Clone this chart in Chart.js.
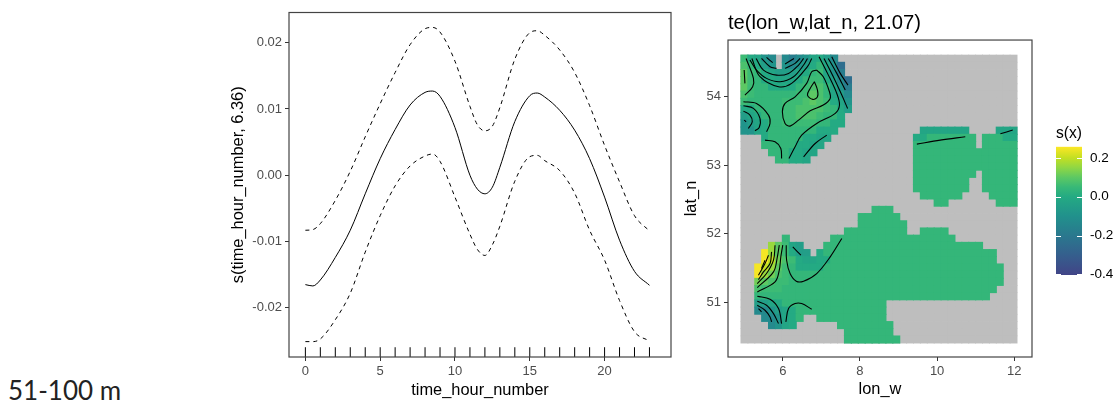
<!DOCTYPE html>
<html>
<head>
<meta charset="utf-8">
<title>gam smooths</title>
<script src="https://cdn.jsdelivr.net/npm/chart.js@4"></script>
<style>
  html, body { margin: 0; padding: 0; background: #fff; overflow: hidden; }
  canvas { position: absolute; }
  #depthLabel { position: absolute; left: 8px; top: 374px; font: 26px Lato, sans-serif; color: #222; }
</style>
</head>
<body>
<canvas id="hourChart" style="left:220px;top:0"></canvas>
<canvas id="mapChart" style="left:680px;top:0"></canvas>
<canvas id="barChart" style="left:1040px;top:120px"></canvas>
<div id="depthLabel">51-100 m</div>
<script>
// left panel: s(time_hour_number)
const hours = [0, 0.5, 1, 2, 3, 4, 5, 6, 7, 8, 8.5, 9, 10, 11, 11.5, 12, 12.5, 13, 14, 15, 15.5, 16, 17, 18, 19, 20, 21, 22, 23];
const sFit = [-0.0165, -0.0167, -0.0158, -0.0124, -0.0083, -0.0028, 0.0025, 0.0069, 0.0106, 0.0125, 0.0127, 0.0119, 0.0072, 0, -0.0021, -0.0028, -0.0018, 0.0012, 0.0081, 0.012, 0.0124, 0.0118, 0.0098, 0.0068, 0.0025, -0.0033, -0.0098, -0.0145, -0.0166];
const sUpper = [-0.0083, -0.0082, -0.0073, -0.0038, 0.0006, 0.0058, 0.0108, 0.0155, 0.0197, 0.0221, 0.0223, 0.0216, 0.0172, 0.0104, 0.0076, 0.0067, 0.0074, 0.0102, 0.0175, 0.0215, 0.0218, 0.0211, 0.0189, 0.0155, 0.0105, 0.0045, -0.001, -0.0061, -0.0084];
const sLower = [-0.0251, -0.0251, -0.0247, -0.0218, -0.0178, -0.0116, -0.0061, -0.0016, 0.0014, 0.0029, 0.0032, 0.0021, -0.0033, -0.0089, -0.0112, -0.0121, -0.0105, -0.0077, -0.0009, 0.0028, 0.003, 0.0022, 0.0007, -0.0027, -0.0083, -0.0128, -0.0189, -0.0236, -0.025];
const rugHours = [0, 1, 2, 3, 4, 5, 6, 7, 8, 9, 10, 11, 12, 13, 14, 15, 16, 17, 18, 19, 20, 21, 22, 23];
const hourTicks = [0, 5, 10, 15, 20];
const sTicks = [-0.02, -0.01, 0, 0.01, 0.02];

// right panel: 40x40 grid, run-length coded rows, top row first. "." is outside too.far
const levelCodes = 'abcdefghijklmnop';
const levelValues = [-0.3, -0.24, -0.18, -0.13, -0.09, -0.05, -0.02, 0, 0.04, 0.055, 0.075, 0.1, 0.12, 0.16, 0.2, 0.25];
const gridRows = [
  'jhged.dcdeghfd26.',
  'kihfe.edefhigeb25.',
  'ljihgfffghijgec25.',
  'ljihhggghijjhfdb24.',
  'ljiihhhhijkkigec24.',
  'kjiiiiiijjlkigfd24.',
  'jiiiiijjjklkjhge24.',
  'hhiiiijjkkkkjihf24.',
  'fghiiijjkkkjiih25.',
  'efghiijjjjjiihh25.',
  'eeghiiiiiiihhh12.7g4.3g',
  '3.hiiiiihhgg12.hh7i.iiihh',
  '3.iiiiihhgg13.9i.5i',
  '4.iiihhgg14.15i',
  '5.iihhg15.15i',
  '25.15i',
  '25.9i.5i',
  '25.8i2.5i',
  '25.8i2.5i',
  '26.6i4.4i',
  '28.2i7.3i',
  '19.3i18.',
  '17.6i17.',
  '17.7i16.',
  '15.9i2.4i10.',
  '6.i6.18i9.',
  '4.nljgf3.23i5.',
  '3.pnljhff.h25i3.',
  '3.pomkjhgghh24i3.',
  '2.ponljihhhh26i2.',
  '2.pnmkj31i2.',
  '2.mlkjj31i2.',
  '2.kjjj31i3.',
  '2.34i4.',
  '2.ffgh15i19.',
  '2.ddefgh13i19.',
  '3.ddeghi2.10i19.',
  '4.degh6.8i18.',
  '15.7i18.',
  '15.8i17.'
];
const lonStart = 4.918, lonStep = 0.1788;
const latStart = 54.61, latStep = 0.1052;
const lonTicks = [6, 8, 10, 12];
const latTicks = [51, 52, 53, 54];

// contours, [lon, lat]
const contoursNorth = [
  [[6.82, 54.22], [6.90, 54.098], [6.90, 54.0], [6.78, 53.962], [6.64, 54.025], [6.71, 54.122], [6.82, 54.22]],
  [[6.88, 54.39], [7.05, 54.293], [7.21, 54.074], [7.23, 53.976], [7.05, 53.879], [6.71, 53.796], [6.41, 53.66], [6.19, 53.572], [6.06, 53.611], [5.99, 53.781], [6.06, 53.903], [6.32, 54.0], [6.62, 54.196], [6.75, 54.366], [6.88, 54.39]],
  [[6.94, 54.585], [7.16, 54.342], [7.40, 54.049], [7.47, 53.879], [7.36, 53.757], [6.88, 53.611], [6.49, 53.44], [6.32, 53.27], [6.16, 53.099]],
  [[7.07, 54.56], [7.31, 54.293], [7.53, 54.025], [7.68, 53.83]],
  [[7.18, 54.56], [7.40, 54.342], [7.62, 54.098]],
  [[7.27, 54.585], [7.49, 54.342], [7.69, 54.171]],
  [[5.20, 54.56], [5.41, 54.293], [5.89, 54.147], [6.23, 54.196], [6.64, 54.44], [6.75, 54.56]],
  [[5.15, 54.537], [5.32, 54.39], [5.58, 54.269], [5.93, 54.22], [6.28, 54.293], [6.54, 54.464], [6.64, 54.56]],
  [[5.31, 54.56], [5.50, 54.39], [5.84, 54.317], [6.15, 54.342], [6.41, 54.464], [6.54, 54.56]],
  [[5.45, 54.56], [5.67, 54.44], [5.84, 54.415]],
  [[6.06, 54.415], [6.32, 54.488], [6.45, 54.56]],
  [[5.58, 54.575], [5.74, 54.498]],
  [[6.06, 54.478], [6.29, 54.56]],
  [[5.05, 54.56], [5.24, 54.269], [5.22, 54.147], [5.02, 54.025]],
  [[5.0, 54.39], [5.02, 54.196]],
  [[4.98, 53.928], [5.32, 53.903], [5.63, 53.733], [5.67, 53.611], [5.58, 53.489]],
  [[4.98, 53.869], [5.24, 53.83], [5.41, 53.684], [5.39, 53.552], [5.28, 53.504]],
  [[4.98, 53.791], [5.15, 53.733], [5.21, 53.635], [5.11, 53.538]],
  [[5.0, 53.66], [5.05, 53.635]],
  [[5.54, 53.367], [5.80, 53.343], [5.95, 53.245], [5.97, 53.099]],
  [[7.14, 53.44], [6.84, 53.318], [6.54, 53.123]]
];
const contoursSouth = [
  [[6.09, 51.832], [6.10, 51.613], [6.19, 51.418], [6.35, 51.306], [6.54, 51.306], [6.88, 51.418], [7.23, 51.662], [7.53, 51.93]],
  [[6.0, 51.832], [5.95, 51.662], [5.91, 51.467], [5.80, 51.296], [5.34, 51.15]],
  [[5.91, 51.832], [5.86, 51.662], [5.76, 51.442], [5.34, 51.213]],
  [[5.80, 51.832], [5.76, 51.613], [5.58, 51.418], [5.34, 51.272]],
  [[5.71, 51.735], [5.67, 51.564], [5.50, 51.442], [5.37, 51.33]],
  [[5.63, 51.686], [5.54, 51.564], [5.37, 51.394]],
  [[5.54, 51.613], [5.45, 51.491]],
  [[6.26, 51.808], [6.47, 51.686]],
  [[5.34, 51.087], [5.67, 51.043], [5.89, 50.906], [5.97, 50.687]],
  [[5.34, 51.013], [5.58, 50.955], [5.76, 50.833], [5.89, 50.687]],
  [[5.34, 50.955], [5.54, 50.882], [5.67, 50.784], [5.71, 50.711]],
  [[5.37, 50.906], [5.45, 50.858]],
  [[6.08, 50.711], [6.15, 50.906], [6.32, 50.979], [6.49, 50.979], [6.75, 50.897]]
];
const contoursEast = [
  [[9.475, 53.309], [10.08, 53.367], [10.73, 53.416]],
  [[11.64, 53.46], [11.96, 53.514]]
];

// colour bar
const barStopValues = [-0.403, -0.3, -0.2, -0.1, 0, 0.05, 0.1, 0.15, 0.2, 0.258];
const barStopColors = ['#414487', '#355f8d', '#2a788e', '#21918c', '#24aa83', '#38b977', '#5dc863', '#8fd744', '#c2df23', '#fde725'];
const barTicks = [-0.4, -0.2, 0, 0.2];

const hexToRgb = h => [1, 3, 5].map(i => parseInt(h.slice(i, i + 2), 16));

const colourFor = (v) => {
  let k = 0;
  while (k < barStopValues.length - 2 && v > barStopValues[k + 1]) k++;
  const t = (v - barStopValues[k]) / (barStopValues[k + 1] - barStopValues[k]);
  const a = hexToRgb(barStopColors[k]), b = hexToRgb(barStopColors[k + 1]);
  return 'rgb(' + a.map((c, i) => Math.round(c + (b[i] - c) * t)).join(',') + ')';
};

const unpackRow = row => row.replace(/(\d+)(.)/g, (m, n, c) => c.repeat(+n));

const greyCells = [];
const colourCells = [];
const cellColours = [];
gridRows.forEach((row, r) => {
  const cells = unpackRow(row);
  for (let c = 0; c < 40; c++) {
    const code = levelCodes.indexOf(cells[c]);
    const point = { x: lonStart + lonStep * (c + 0.5), y: latStart - latStep * (r + 0.5) };
    greyCells.push(point);
    if (code >= 0) {
      colourCells.push(point);
      cellColours.push(colourFor(levelValues[code]));
    }
  }
});

// box round the plot area, the scales only draw their own edge
const panelBox = {
  id: 'panelBox',
  afterDraw(chart, args, opts) {
    const { ctx, chartArea: a } = chart;
    ctx.save();
    ctx.strokeStyle = opts.color;
    ctx.lineWidth = opts.width;
    ctx.strokeRect(a.left, a.top, a.right - a.left, a.bottom - a.top);
    ctx.restore();
  }
};

const fixedTicks = list => (scale) => { scale.ticks = list.map(v => ({ value: v })); };

const axisBase = (title, ticks, format, size, titlePadding) => ({
  type: 'linear',
  border: { display: false },
  grid: { drawOnChartArea: false, drawTicks: true, tickLength: 4, tickColor: '#333333', tickWidth: 1 },
  ticks: { color: '#4d4d4d', font: { family: 'Liberation Sans', size: 13 }, padding: 3, maxRotation: 0, autoSkip: false, callback: format },
  title: { display: true, text: title, color: '#000', font: { family: 'Liberation Sans', size: 16.4 }, padding: titlePadding },
  afterBuildTicks: fixedTicks(ticks),
  afterFit: size
});

const common = {
  responsive: false,
  animation: false,
  events: [],
  plugins: { legend: { display: false }, tooltip: { enabled: false }, panelBox: { color: '#444444', width: 1.2 } }
};

const curve = (data, dash) => ({
  data: hours.map((h, i) => ({ x: h, y: data[i] })),
  showLine: true,
  pointRadius: 0,
  borderColor: '#000',
  borderWidth: 1,
  borderDash: dash,
  cubicInterpolationMode: 'monotone'
});

const hourCanvas = document.getElementById('hourChart');
hourCanvas.width = 460; hourCanvas.height = 403;
new Chart(hourCanvas, {
  type: 'scatter',
  plugins: [panelBox],
  data: {
    datasets: [
      curve(sFit, []),
      curve(sUpper, [4, 4]),
      curve(sLower, [4, 4]),
      {
        data: rugHours.map(h => ({ x: h, y: -0.0267 })),
        pointStyle: 'line',
        pointRotation: 90,
        pointRadius: 5,
        pointBorderColor: '#000',
        pointBorderWidth: 1
      }
    ]
  },
  options: {
    ...common,
    layout: { padding: { top: 12.5, right: 9 } },
    scales: {
      x: { ...axisBase('time_hour_number', hourTicks, v => v, s => { s.height = 46; }, { top: 2, bottom: 3 }), min: -1.095, max: 24.44 },
      y: { ...axisBase('s(time_hour_number, 6.36)', sTicks, v => v.toFixed(2), s => { s.width = 69; }, { top: 9, bottom: 2 }), min: -0.02742, max: 0.02455 }
    }
  }
});

const contourSet = line => ({
  data: line.map(p => ({ x: p[0], y: p[1] })),
  showLine: true,
  pointRadius: 0,
  borderColor: '#000',
  borderWidth: 1.1,
  tension: 0.35,
  order: 1
});

const mapCanvas = document.getElementById('mapChart');
mapCanvas.width = 360; mapCanvas.height = 403;
new Chart(mapCanvas, {
  type: 'scatter',
  plugins: [panelBox],
  data: {
    datasets: [
      ...contoursNorth.map(contourSet),
      ...contoursSouth.map(contourSet),
      ...contoursEast.map(contourSet),
      {
        data: colourCells,
        pointStyle: 'rect',
        pointRadius: 5.7,
        pointBorderWidth: 0,
        backgroundColor: cellColours,
        order: 2
      },
      {
        data: greyCells,
        pointStyle: 'rect',
        pointRadius: 5.6,
        pointBorderWidth: 0,
        backgroundColor: '#bebebe',
        order: 3
      }
    ]
  },
  options: {
    ...common,
    layout: { padding: { right: 8 } },
    plugins: {
      ...common.plugins,
      title: {
        display: true,
        text: 'te(lon_w,lat_n, 21.07)',
        align: 'start',
        fullSize: false,
        color: '#000',
        font: { family: 'Liberation Sans', size: 20.2, weight: 'normal' },
        padding: { top: 11, bottom: 4.8 }
      }
    },
    scales: {
      x: { ...axisBase('lon_w', lonTicks, v => v, s => { s.height = 46; }, { top: 2, bottom: 4 }), min: 4.581, max: 12.459 },
      y: { ...axisBase('lat_n', latTicks, v => v, s => { s.width = 48; }, { top: 2, bottom: 2 }), min: 50.199, max: 54.829 }
    }
  }
});

// white ticks inside the colour bar
const barTickMarks = {
  id: 'barTickMarks',
  afterDatasetsDraw(chart) {
    const { ctx, chartArea: a, scales } = chart;
    ctx.save();
    ctx.strokeStyle = '#fff';
    ctx.lineWidth = 1;
    barTicks.forEach((v) => {
      const y = Math.round(scales.y.getPixelForValue(v)) + 0.5;
      ctx.beginPath();
      ctx.moveTo(a.left, y); ctx.lineTo(a.left + 5, y);
      ctx.moveTo(a.right - 5, y); ctx.lineTo(a.right, y);
      ctx.stroke();
    });
    ctx.restore();
  }
};

const barCanvas = document.getElementById('barChart');
barCanvas.width = 78; barCanvas.height = 163;
new Chart(barCanvas, {
  type: 'bar',
  plugins: [barTickMarks],
  data: {
    labels: ['s(x)'],
    datasets: [{
      data: [[barStopValues[0], barStopValues[barStopValues.length - 1]]],
      barPercentage: 1,
      categoryPercentage: 1,
      backgroundColor(c) {
        const { chartArea, scales, ctx } = c.chart;
        if (!chartArea) return '#24aa83';
        const y0 = scales.y.getPixelForValue(barStopValues[0]);
        const y1 = scales.y.getPixelForValue(barStopValues[barStopValues.length - 1]);
        const g = ctx.createLinearGradient(0, y0, 0, y1);
        barStopValues.forEach((v, i) => {
          g.addColorStop((v - barStopValues[0]) / (barStopValues[barStopValues.length - 1] - barStopValues[0]), barStopColors[i]);
        });
        return g;
      }
    }]
  },
  options: {
    responsive: false,
    animation: false,
    events: [],
    layout: { padding: { left: 16, bottom: 4 } },
    plugins: {
      legend: { display: false },
      tooltip: { enabled: false },
      title: {
        display: true,
        text: 's(x)',
        align: 'start',
        fullSize: false,
        color: '#000',
        font: { family: 'Liberation Sans', size: 17, weight: 'normal' },
        padding: { top: 3, bottom: 3.3 }
      }
    },
    scales: {
      x: { display: false },
      y: {
        position: 'right',
        min: -0.403,
        max: 0.258,
        border: { display: false },
        grid: { display: false },
        ticks: { color: '#000', font: { family: 'Liberation Sans', size: 13.5 }, padding: 0, callback: v => v.toFixed(1) },
        afterBuildTicks: fixedTicks(barTicks),
        afterFit: (s) => { s.width = 36; }
      }
    }
  }
});
</script>
</body>
</html>
